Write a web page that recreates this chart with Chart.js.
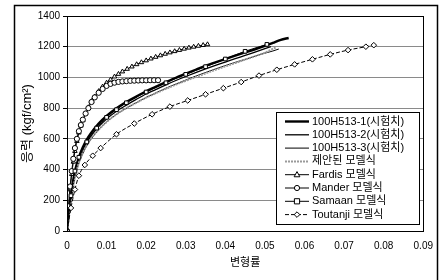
<!DOCTYPE html>
<html>
<head>
<meta charset="utf-8">
<script src="https://cdn.jsdelivr.net/npm/chart.js@4.4.0/dist/chart.umd.min.js"></script>
<style>
html,body{margin:0;padding:0;background:#fff;}
canvas{display:block;}
</style>
</head>
<body>
<canvas id="c" width="442" height="280"></canvas>
<script>
// ---------- DATA ----------
const seriesNames = ["100H513-1(시험치)", "100H513-2(시험치)", "100H513-3(시험치)", "제안된 모델식", "Fardis 모델식", "Mander 모델식", "Samaan 모델식", "Toutanji 모델식"];
const xTickLabels = ["0", "0.01", "0.02", "0.03", "0.04", "0.05", "0.06", "0.07", "0.08", "0.09"];
const yTickLabels = ["0", "200", "400", "600", "800", "1000", "1200", "1400"];
const xTitle = "변형률";
const yTitle = "응력 (kgf/cm²)";

const test1X = [0,0.0005,0.001,0.0015,0.002,0.003,0.004,0.005,0.006,0.008,0.010,0.0125,0.015,0.0175,0.020,0.0225,0.025,0.0275,0.030,0.0325,0.035,0.0375,0.040,0.0425,0.045,0.0475,0.050,0.052,0.054,0.056];
const test1Y = [0,120,230,320,390,480,545,595,635,700,750,800,840,875,910,940,970,998,1025,1050,1075,1098,1120,1142,1163,1183,1205,1225,1245,1257];

const test2X = [0,0.0005,0.001,0.0015,0.002,0.003,0.004,0.005,0.006,0.008,0.010,0.0125,0.015,0.0175,0.020,0.0225,0.025,0.0275,0.030,0.0325,0.035,0.0375,0.040,0.0425,0.045,0.0475,0.0515];
const test2Y = [0,110,210,300,370,460,525,575,615,680,730,780,820,857,892,922,952,980,1006,1031,1055,1078,1100,1122,1143,1165,1200];

const test3X = [0,0.0005,0.001,0.0015,0.002,0.003,0.004,0.005,0.006,0.008,0.010,0.0125,0.015,0.0175,0.020,0.0225,0.025,0.0275,0.030,0.0325,0.035,0.0375,0.040,0.0425,0.045,0.0475,0.050,0.052,0.0535];
const test3Y = [0,100,195,280,350,440,505,555,595,660,710,760,800,836,870,900,930,957,983,1008,1032,1055,1077,1098,1118,1138,1158,1172,1185];

const proposedX = [0,0.001,0.002,0.003,0.004,0.006,0.008,0.010,0.0125,0.015,0.0175,0.020,0.0225,0.025,0.0275,0.030,0.0325,0.035,0.0375,0.040,0.0425,0.045,0.0475,0.050,0.0527];
const proposedY = [0,200,350,445,510,600,660,710,760,800,835,868,898,926,953,978,1002,1026,1050,1072,1094,1116,1138,1162,1195];

const fardisX = [0,0.0004,0.0008,0.0012,0.0016,0.002,0.0025,0.003,0.0035,0.004,0.0047,0.0054,0.0062,0.007,0.008,0.009,0.010,0.011,0.012,0.013,0.014,0.0152,0.0164,0.0176,0.0188,0.02,0.0212,0.0224,0.0236,0.0248,0.026,0.0272,0.0284,0.0296,0.0308,0.032,0.0332,0.0344,0.0355];
const fardisY = [0,150,270,370,450,520,585,640,685,720,765,805,845,875,910,940,965,985,1005,1022,1038,1055,1070,1085,1098,1110,1122,1133,1143,1153,1162,1170,1178,1186,1193,1199,1205,1210,1215];

const manderX = [0,0.0004,0.0008,0.0012,0.0016,0.002,0.0025,0.003,0.0035,0.004,0.0047,0.0054,0.0062,0.007,0.008,0.009,0.010,0.011,0.012,0.013,0.014,0.015,0.016,0.017,0.018,0.019,0.020,0.021,0.022,0.023];
const manderY = [0,160,290,390,470,540,600,650,690,725,765,800,840,870,900,925,945,958,966,971,974,976,978,979,980,981,981,982,982,982];

const samaanX = [0,0.001,0.002,0.003,0.005,0.0075,0.010,0.0125,0.015,0.020,0.025,0.030,0.035,0.040,0.045,0.0505];
const samaanY = [0,230,390,480,580,670,740,790,835,905,965,1020,1070,1120,1170,1215];

const toutanjiX = [0,0.001,0.002,0.003,0.0045,0.0065,0.0085,0.0125,0.017,0.0215,0.026,0.0305,0.035,0.0395,0.044,0.0485,0.053,0.0575,0.062,0.0665,0.071,0.0755,0.0775];
const toutanjiY = [0,150,270,360,430,490,540,630,700,760,810,850,890,930,970,1012,1050,1085,1118,1150,1178,1200,1210];

// ---------- build ----------
const pts = (xs, ys) => xs.map((x, i) => ({x: x, y: ys[i]}));

const styles = [
  {color:'#000', width:2.4, dash:[], point:false},
  {color:'#000', width:1.3, dash:[], point:false},
  {color:'#000', width:1, dash:[], point:false},
  {color:'#9a9a9a', width:2, dash:[2,1], point:false},
  {color:'#000', width:1, dash:[], point:'triangle', r:2.6},
  {color:'#000', width:1, dash:[], point:'circle', r:2.6},
  {color:'#000', width:1, dash:[], point:'rect', r:2.6},
  {color:'#000', width:1, dash:[4,2], point:'rectRot', r:2.8}
];
const seriesData = [pts(test1X,test1Y), pts(test2X,test2Y), pts(test3X,test3Y), pts(proposedX,proposedY),
  pts(fardisX,fardisY), pts(manderX,manderY), pts(samaanX,samaanY), pts(toutanjiX,toutanjiY)];

const datasets = seriesData.map((d, i) => {
  const s = styles[i];
  return {
    label: seriesNames[i],
    data: d,
    showLine: true,
    borderColor: s.color,
    borderWidth: s.width,
    borderDash: s.dash,
    backgroundColor: '#fff',
    pointStyle: s.point || 'circle',
    pointRadius: s.point ? s.r : 0,
    pointBorderWidth: 1,
    pointBorderColor: '#000',
    pointBackgroundColor: '#fff',
    cubicInterpolationMode: 'monotone',
    fill: false,
    order: 8 - i
  };
});

function drawMarker(ctx, style, x, y, r) {
  ctx.save();
  ctx.setLineDash([]);
  ctx.lineWidth = 1;
  ctx.strokeStyle = '#000';
  ctx.fillStyle = '#fff';
  ctx.beginPath();
  if (style === 'triangle') {
    ctx.moveTo(x, y - r * 1.2);
    ctx.lineTo(x + r * 1.1, y + r * 0.8);
    ctx.lineTo(x - r * 1.1, y + r * 0.8);
    ctx.closePath();
  } else if (style === 'circle') {
    ctx.arc(x, y, r, 0, Math.PI * 2);
  } else if (style === 'rect') {
    ctx.rect(x - r, y - r, 2 * r, 2 * r);
  } else if (style === 'rectRot') {
    ctx.moveTo(x, y - r); ctx.lineTo(x + r, y); ctx.lineTo(x, y + r); ctx.lineTo(x - r, y); ctx.closePath();
  }
  ctx.fill();
  ctx.stroke();
  ctx.restore();
}

const framePlugin = {
  id: 'frame',
  beforeDraw(chart) {
    const ctx = chart.ctx;
    ctx.save();
    ctx.fillStyle = '#fff';
    ctx.fillRect(0, 0, chart.width, chart.height);
    ctx.strokeStyle = '#000';
    ctx.lineWidth = 1.5;
    ctx.beginPath();
    ctx.moveTo(14.5, 282); ctx.lineTo(14.5, 5.5); ctx.lineTo(437.5, 5.5); ctx.lineTo(437.5, 282);
    ctx.stroke();
    ctx.restore();
  },
  afterDraw(chart) {
    const ctx = chart.ctx;
    const a = chart.chartArea;
    ctx.save();
    ctx.strokeStyle = '#000';
    ctx.lineWidth = 1;
    ctx.strokeRect(Math.round(a.left) + 0.5, Math.round(a.top) + 0.5, Math.round(a.right - a.left), Math.round(a.bottom - a.top));
    // legend
    const lx = 276, ly = 112, lw = 143, lh = 112;
    ctx.fillStyle = '#fff';
    ctx.fillRect(lx, ly, lw, lh);
    ctx.strokeRect(lx + 0.5, ly + 0.5, lw, lh);
    ctx.font = '11px "Liberation Sans", "Noto Sans CJK KR", sans-serif';
    ctx.textBaseline = 'middle';
    ctx.fillStyle = '#000';
    seriesNames.forEach((name, i) => {
      const s = styles[i];
      const y = ly + 9.5 + i * 13.3;
      ctx.save();
      ctx.strokeStyle = s.color;
      ctx.lineWidth = s.width;
      ctx.setLineDash(s.dash);
      ctx.beginPath();
      ctx.moveTo(285, y); ctx.lineTo(309, y);
      ctx.stroke();
      ctx.restore();
      if (s.point) drawMarker(ctx, s.point, 297, y, s.r);
      ctx.fillStyle = '#000';
      ctx.fillText(name, 312, y);
    });
    ctx.restore();
  }
};

const tickFont = {family: '"Liberation Sans", "Noto Sans CJK KR", sans-serif', size: 10};
const titleFont = {family: '"Liberation Sans", "Noto Sans CJK KR", sans-serif', size: 11};
const yTitleFont = {family: '"Liberation Sans", "Noto Sans CJK KR", sans-serif', size: 13};

new Chart(document.getElementById('c'), {
  type: 'scatter',
  data: {datasets: datasets},
  options: {
    responsive: false,
    animation: false,
    devicePixelRatio: 1,
    layout: {padding: {left: 16, right: 15, top: 16, bottom: 6}},
    plugins: {legend: {display: false}, tooltip: {enabled: false}},
    scales: {
      x: {
        type: 'linear', min: 0, max: 0.09,
        afterFit(s) { s.height = 43; },
        ticks: {stepSize: 0.01, color: '#000', font: tickFont, padding: 9, maxRotation: 0,
          callback: (v, i) => xTickLabels[i]},
        grid: {display: false, drawTicks: false},
        border: {display: true, color: '#000', width: 1},
        title: {display: true, text: xTitle, color: '#000', font: titleFont, padding: 4}
      },
      y: {
        type: 'linear', min: 0, max: 1400,
        afterFit(s) { s.width = 51; },
        ticks: {stepSize: 200, color: '#000', font: tickFont, padding: 3,
          callback: (v, i) => yTickLabels[i]},
        grid: {color: '#8a8a8a', lineWidth: 1, tickLength: 4, tickColor: '#000'},
        border: {display: true, color: '#000', width: 1},
        title: {display: true, text: yTitle, color: '#000', font: yTitleFont, padding: 4}
      }
    }
  },
  plugins: [framePlugin]
});
</script>
</body>
</html>
